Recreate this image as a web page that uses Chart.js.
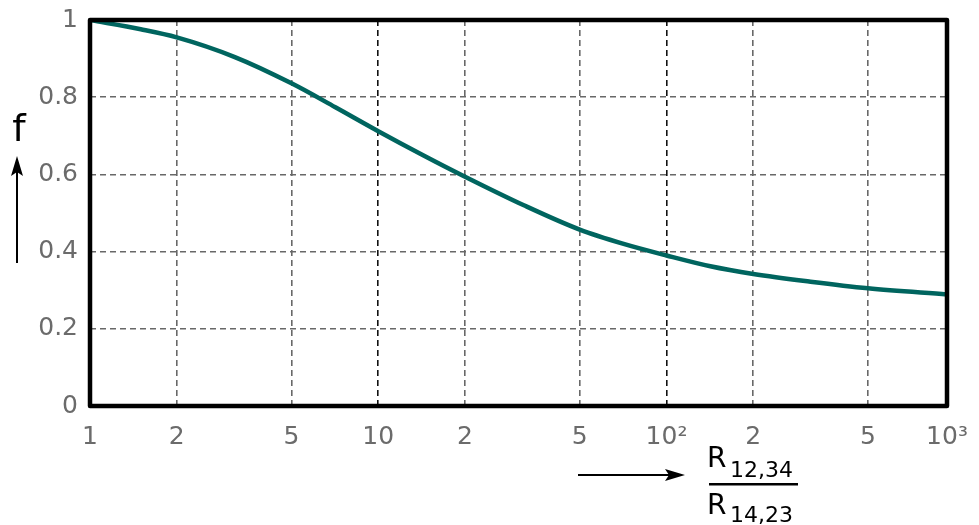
<!DOCTYPE html>
<html>
<head>
<meta charset="utf-8">
<script src="https://cdn.jsdelivr.net/npm/chart.js@4/dist/chart.umd.min.js"></script>
<style>
  html, body { margin: 0; padding: 0; background: #fff; }
  #wrap { width: 979px; height: 525px; }
</style>
</head>
<body>
<div id="wrap"><canvas id="fChart" width="979" height="525"></canvas></div>
<script>
// =================== DATA ===================
// ratio R12,34 / R14,23 and correction factor f
const ratio = [1, 1.5, 2, 3.18, 5, 7.1, 10, 14.2, 20, 32, 50, 71, 100, 142, 200, 316, 500, 940];
const fValues = [1.0, 0.976, 0.955, 0.904, 0.836, 0.774, 0.712, 0.651, 0.594, 0.52, 0.457, 0.42, 0.39, 0.362, 0.342, 0.322, 0.305, 0.289];

const xTicks = [1, 2, 5, 10, 20, 50, 100, 200, 500, 940];
const xTickLabels = ["1", "2", "5", "10", "2", "5", "10²", "2", "5", "10³"];
const yTicks = [0, 0.2, 0.4, 0.6, 0.8, 1];
const yTickLabels = ["0", "0.2", "0.4", "0.6", "0.8", "1"];

const FONT = "'DejaVu Sans', Verdana, sans-serif";
const TICK_GREY = "#6b6b6b";
const GRID_GREY = "#686868";

// =================== HELPERS ===================
function arrow(c, x1, y1, x2, y2) {
  c.save();
  c.strokeStyle = "#000";
  c.fillStyle = "#000";
  c.lineWidth = 2;
  const ang = Math.atan2(y2 - y1, x2 - x1);
  const len = 20, half = 6;
  const bx = x2 - Math.cos(ang) * (len - 4);
  const by = y2 - Math.sin(ang) * (len - 4);
  c.beginPath();
  c.moveTo(x1, y1);
  c.lineTo(bx, by);
  c.stroke();
  c.beginPath();
  c.moveTo(x2, y2);
  c.lineTo(x2 - Math.cos(ang) * len + Math.sin(ang) * half, y2 - Math.sin(ang) * len - Math.cos(ang) * half);
  c.lineTo(bx, by);
  c.lineTo(x2 - Math.cos(ang) * len - Math.sin(ang) * half, y2 - Math.sin(ang) * len + Math.cos(ang) * half);
  c.closePath();
  c.fill();
  c.restore();
}

// frame round the plot + axis titles with arrows
const decorations = {
  id: "decorations",
  afterDatasetsDraw(chart) {
    const c = chart.ctx;
    const a = chart.chartArea;
    c.save();
    c.strokeStyle = "#000";
    c.lineWidth = 4.5;
    c.lineJoin = "round";
    c.strokeRect(a.left, a.top, a.right - a.left, a.bottom - a.top);
    c.restore();
  },
  afterDraw(chart) {
    const c = chart.ctx;
    c.save();
    c.fillStyle = "#000";
    c.textBaseline = "alphabetic";

    // y title
    c.font = "38px " + FONT;
    c.textAlign = "center";
    c.fillText("f", 19, 141);
    arrow(c, 17, 263, 17, 156);

    // x title
    arrow(c, 578, 475, 685, 475);
    c.textAlign = "left";
    c.font = "28px " + FONT;
    c.fillText("R", 707, 467);
    c.fillText("R", 707, 514);
    c.font = "22px " + FONT;
    c.fillText("12,34", 730, 477);
    c.fillText("14,23", 730, 522);
    c.fillRect(709, 483, 89, 2.5);
    c.restore();
  }
};

// =================== CHART ===================
const ctx = document.getElementById("fChart");

new Chart(ctx, {
  type: "line",
  data: {
    datasets: [
      {
        data: ratio.map((r, i) => ({ x: r, y: fValues[i] })),
        borderColor: "#00655f",
        borderWidth: 4.5,
        pointRadius: 0,
        cubicInterpolationMode: "monotone",
        fill: false,
      },
    ],
  },
  options: {
    responsive: false,
    animation: false,
    layout: { padding: { left: 0, right: 32, top: 20, bottom: 0 } },
    plugins: { legend: { display: false }, tooltip: { enabled: false } },
    scales: {
      x: {
        type: "logarithmic",
        min: xTicks[0],
        max: xTicks[xTicks.length - 1],
        afterBuildTicks: (scale) => {
          scale.ticks = xTicks.map((v) => ({ value: v }));
        },
        afterFit: (scale) => {
          scale.height = 119;
          scale.paddingLeft = 0;
          scale.paddingRight = 0;
        },
        ticks: {
          autoSkip: false,
          maxRotation: 0,
          padding: 16,
          color: TICK_GREY,
          font: { family: FONT, size: 25 },
          callback: (v, i) => xTickLabels[i],
        },
        grid: {
          drawTicks: false,
          lineWidth: 1.6,
          color: (c) => (c.tick && (c.tick.value === 10 || c.tick.value === 100) ? "#111" : GRID_GREY),
        },
        border: { display: false, dash: [6, 4] },
      },
      y: {
        min: 0,
        max: 1,
        afterBuildTicks: (scale) => {
          scale.ticks = yTicks.map((v) => ({ value: v }));
        },
        afterFit: (scale) => {
          scale.width = 90;
          scale.paddingTop = 0;
          scale.paddingBottom = 0;
        },
        ticks: {
          padding: 12,
          color: TICK_GREY,
          font: { family: FONT, size: 25 },
          callback: (v, i) => yTickLabels[i],
        },
        grid: {
          drawTicks: false,
          lineWidth: 1.6,
          color: GRID_GREY,
        },
        border: { display: false, dash: [6, 4] },
      },
    },
  },
  plugins: [decorations],
});
</script>
</body>
</html>
